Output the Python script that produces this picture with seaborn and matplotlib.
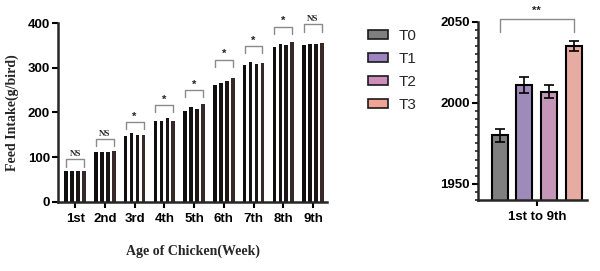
import numpy as np
import pandas as pd
import seaborn as sns
import matplotlib.pyplot as plt
from matplotlib.patches import Patch
from matplotlib.ticker import MultipleLocator

weeks = ['1st', '2nd', '3rd', '4th', '5th', '6th', '7th', '8th', '9th']
treatments = ['T0', 'T1', 'T2', 'T3']
T0 = [70, 111, 148, 181, 203, 261, 307, 346, 350]
T1 = [70, 112, 153, 182, 212, 267, 312, 353, 353]
T2 = [70, 112, 150, 187, 207, 270, 309, 350, 353]
T3 = [70, 113, 150, 182, 218, 277, 311, 358, 355]
sig = ['NS', 'NS', '*', '*', '*', '*', '*', '*', 'NS']
sig_level = [95, 140, 178, 216, 250, 318, 348, 392, 397]

total = [1980, 2011, 2007, 2035]
total_err = [4, 5, 4, 3]

weekly_colors = ['#0d0d0d', '#141010', '#1c1414', '#3a2626']
total_colors = ['#7f7f7f', '#9d83c2', '#cd8ebb', '#f1a396']

sns.set_theme(style='ticks')
plt.rcParams['font.family'] = ['Liberation Sans', 'DejaVu Sans']

weekly = pd.DataFrame({
    'week': np.repeat(weeks, 4),
    'trt': treatments * len(weeks),
    'intake': np.array([T0, T1, T2, T3]).T.ravel(),
})
overall = pd.DataFrame({'period': ['1st to 9th'] * 4, 'trt': treatments, 'intake': total})

fig = plt.figure(figsize=(6, 2.71), dpi=100)
ax1 = fig.add_axes([0.097, 0.255, 0.448, 0.66])
ax2 = fig.add_axes([0.797, 0.262, 0.182, 0.657])

# weekly intake
sns.barplot(data=weekly, x='week', y='intake', hue='trt', hue_order=treatments,
            palette=weekly_colors, width=0.8, gap=0.4, linewidth=0,
            legend=False, ax=ax1)
ax1.set_ylim(0, 400)
ax1.set_xlim(-0.57, 8.47)
ax1.yaxis.set_major_locator(MultipleLocator(100))
for i, (lab, lvl) in enumerate(zip(sig, sig_level)):
    p0 = ax1.patches[i]
    p3 = ax1.patches[3 * len(weeks) + i]
    xa = p0.get_x() + p0.get_width() / 2
    xb = p3.get_x() + p3.get_width() / 2
    ax1.plot([xa, xa, xb, xb], [lvl - 16, lvl, lvl, lvl - 16], color='#8a8a8a', lw=1, clip_on=False)
    if lab == 'NS':
        ax1.text((xa + xb) / 2, lvl + 3, lab, ha='center', va='bottom', fontsize=6.5,
                 family='Liberation Serif', fontweight='bold')
    else:
        ax1.text((xa + xb) / 2, lvl + 1, lab, ha='center', va='bottom', fontsize=8,
                 fontweight='bold')
ax1.set_xlabel('Age of Chicken(Week)', family='Liberation Serif', fontweight='bold',
               fontsize=10, labelpad=14)
ax1.set_ylabel('Feed Intake(g/bird)', family='Liberation Serif', fontweight='bold',
               fontsize=10, labelpad=6)

# overall intake
sns.barplot(data=overall, x='period', y='intake', hue='trt', hue_order=treatments,
            palette=total_colors, width=0.8, gap=0.35, linewidth=1.5, edgecolor='black',
            legend=False, ax=ax2)
xs = [p.get_x() + p.get_width() / 2 for p in ax2.patches[:4]]
ax2.errorbar(xs, total, yerr=total_err, fmt='none', ecolor='black', elinewidth=1.2,
             capsize=3.5, capthick=1.2)
ax2.set_ylim(1940, 2050)
ax2.set_xlim(-0.473, 0.408)
ax2.yaxis.set_major_locator(MultipleLocator(50))
ax2.yaxis.set_minor_locator(MultipleLocator(5))
ax2.plot([xs[0], xs[0], xs[3], xs[3]], [2044, 2052, 2052, 2044], color='#8a8a8a', lw=1, clip_on=False)
ax2.text((xs[0] + xs[3]) / 2, 2054, '**', ha='center', va='bottom', fontsize=8,
         fontweight='bold')
ax2.set_xlabel('')
ax2.set_ylabel('')

for ax in (ax1, ax2):
    sns.despine(ax=ax)
    for s in ('left', 'bottom'):
        ax.spines[s].set_linewidth(1.8)
    ax.tick_params(axis='both', which='major', length=4, width=1.5, pad=2,
                   labelsize=9.5, colors='black')
    ax.tick_params(axis='x', which='major', pad=4)
    ax.tick_params(axis='y', which='minor', length=2.5, width=1.2)
    for t in ax.get_xticklabels() + ax.get_yticklabels():
        t.set_fontweight('bold')

handles = [Patch(facecolor=c, edgecolor='#1a1a1a', linewidth=1.2) for c in total_colors]
fig.legend(handles, treatments, loc='upper left', bbox_to_anchor=(0.59, 0.945),
           frameon=False, fontsize=11, handlelength=1.3, handleheight=0.5,
           labelspacing=0.6, handletextpad=0.7)

fig.savefig('out.png', dpi=100)
